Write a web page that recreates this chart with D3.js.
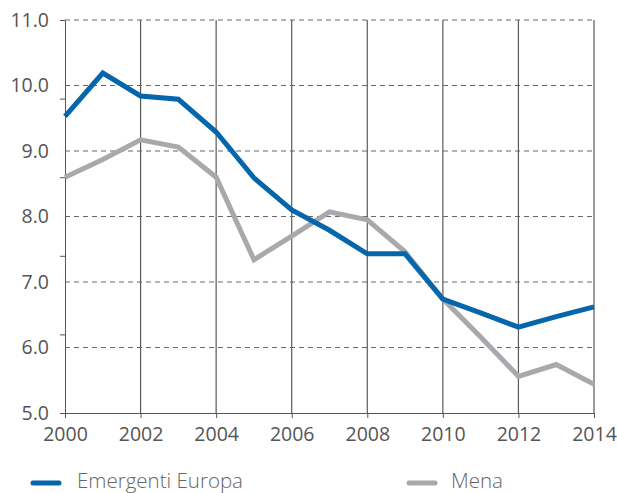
<!DOCTYPE html>
<html>
<head>
<meta charset="utf-8">
<script src="https://cdn.jsdelivr.net/npm/d3@7"></script>
<style>
  body { margin: 0; background: #fff; }
  svg { font-family: "Open Sans", sans-serif; }
</style>
</head>
<body>
<svg id="chart" width="617" height="493"></svg>
<script>
var years = [2000, 2001, 2002, 2003, 2004, 2005, 2006, 2007, 2008, 2009, 2010, 2011, 2012, 2013, 2014];
var europa = [9.53, 10.19, 9.84, 9.79, 9.29, 8.59, 8.10, 7.79, 7.43, 7.43, 6.74, 6.53, 6.31, 6.47, 6.62];
var mena = [8.60, 8.87, 9.17, 9.06, 8.60, 7.34, 7.70, 8.07, 7.95, 7.46, 6.74, 6.16, 5.56, 5.74, 5.44];
var xTicks = [2000, 2002, 2004, 2006, 2008, 2010, 2012, 2014];
var yTicks = [5, 6, 7, 8, 9, 10, 11];
var seriesNames = ["Emergenti Europa", "Mena"];

var svg = d3.select("#chart"),
    margin = {top: 20, right: 23, bottom: 80, left: 65},
    width = 617 - margin.left - margin.right,
    height = 493 - margin.top - margin.bottom,
    g = svg.append("g").attr("transform", "translate(" + margin.left + "," + margin.top + ")");

var x = d3.scaleLinear().domain([2000, 2014]).range([0, width]),
    y = d3.scaleLinear().domain([5, 11]).range([height, 0]),
    color = d3.scaleOrdinal().domain(seriesNames).range(["#0566ab", "#a8a9ad"]);

// horizontal dashed gridlines
g.selectAll(".hgrid")
  .data(yTicks.slice(1))
  .enter().append("line")
    .attr("x1", 0).attr("x2", width)
    .attr("y1", function(d) { return y(d); })
    .attr("y2", function(d) { return y(d); })
    .attr("stroke", "#666")
    .attr("stroke-width", 1)
    .attr("stroke-dasharray", "5,4");

// vertical solid gridlines
g.selectAll(".vgrid")
  .data(xTicks.slice(1))
  .enter().append("line")
    .attr("x1", function(d) { return x(d); })
    .attr("x2", function(d) { return x(d); })
    .attr("y1", 0).attr("y2", height)
    .attr("stroke", "#5a5a5a")
    .attr("stroke-width", 1.2);

// x axis
var xAxis = g.append("g")
  .attr("transform", "translate(0," + height + ")")
  .call(d3.axisBottom(x).tickValues(xTicks).tickFormat(d3.format("d")).tickSize(5).tickPadding(9));
xAxis.select(".domain").attr("stroke", "#555");
xAxis.selectAll(".tick line").attr("stroke", "#555");
xAxis.selectAll("text").attr("fill", "#555").style("font-size", "19.5px").style("font-family", "Open Sans");

// y axis: labels sit on the gridlines, tick marks divide the axis in five
var yAxis = g.append("g")
  .call(d3.axisLeft(y).tickValues(yTicks).tickFormat(d3.format(".1f")).tickSize(0).tickPadding(16));
yAxis.select(".domain").attr("stroke", "#555");
yAxis.selectAll("text").attr("fill", "#555").style("font-size", "19.5px").style("font-family", "Open Sans");

var yMarks = d3.scaleLinear().domain([0, 5]).range([height, 0]);
var yMarkAxis = g.append("g")
  .call(d3.axisLeft(yMarks).ticks(5).tickFormat("").tickSize(5));
yMarkAxis.select(".domain").remove();
yMarkAxis.selectAll(".tick line").attr("stroke", "#555");

// lines
var line = d3.line()
  .x(function(d, i) { return x(years[i]); })
  .y(function(d) { return y(d); });

var series = [
  {name: seriesNames[1], values: mena},
  {name: seriesNames[0], values: europa}
];

g.selectAll(".series")
  .data(series)
  .enter().append("path")
    .attr("fill", "none")
    .attr("stroke", function(d) { return color(d.name); })
    .attr("stroke-width", 5)
    .attr("stroke-linejoin", "miter")
    .attr("d", function(d) { return line(d.values); });

// legend
var legendPos = [31, 407];
var legendTextX = [46, 44];
var legend = svg.selectAll(".legend")
  .data(seriesNames)
  .enter().append("g")
    .attr("transform", function(d, i) { return "translate(" + legendPos[i] + ",483)"; });

legend.append("line")
  .attr("x1", 2).attr("x2", 28)
  .attr("stroke", function(d) { return color(d); })
  .attr("stroke-width", 5)
  .attr("stroke-linecap", "round");

legend.append("text")
  .attr("x", function(d, i) { return legendTextX[i]; })
  .attr("y", 5)
  .attr("fill", "#666")
  .style("font-size", "20.5px")
  .style("font-weight", 300)
  .text(function(d) { return d; });
</script>
</body>
</html>
